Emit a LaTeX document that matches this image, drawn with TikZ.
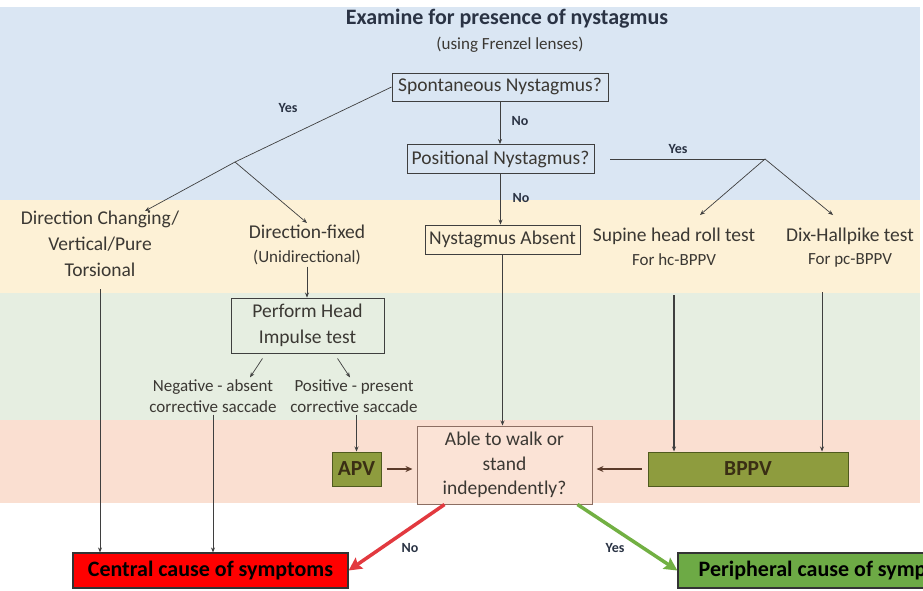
\documentclass[tikz,border=0pt]{standalone}
\usepackage{fontspec}
\setmainfont{Carlito}
\usetikzlibrary{arrows.meta,calc}
\definecolor{cblue}{HTML}{DAE6F3}
\definecolor{cyellow}{HTML}{FDF1D6}
\definecolor{cgreenband}{HTML}{E6EEE1}
\definecolor{cpink}{HTML}{FADFD1}
\definecolor{ablefill}{HTML}{FBE3D6}
\definecolor{ableborder}{HTML}{8C6E62}
\definecolor{olivefill}{HTML}{8E9C3E}
\definecolor{oliveborder}{HTML}{4F5A1E}
\definecolor{olivetext}{HTML}{3A2E14}
\definecolor{cred}{HTML}{FF0000}
\definecolor{cgreen}{HTML}{6DAA45}
\definecolor{redline}{HTML}{E2393F}
\definecolor{greenline}{HTML}{72B043}
\definecolor{textcol}{HTML}{3B3833}
\definecolor{titlecol}{HTML}{2A3344}
\definecolor{linecol}{HTML}{3F3F3F}
\definecolor{browncol}{HTML}{5A3A2A}
\begin{document}
\begin{tikzpicture}[x=1pt,y=-1pt,
  txt/.style={text=textcol,font=\fontsize{19.5}{25.5}\selectfont,align=center,inner sep=2pt},
  subtxt/.style={text=textcol,font=\fontsize{17}{21}\selectfont,align=center,inner sep=2pt},
  boxnode/.style={txt,draw=linecol,line width=0.9pt},
  olivebox/.style={draw=oliveborder,fill=olivefill,line width=1pt,text=olivetext,font=\bfseries\fontsize{21.5}{25}\selectfont},
  ablebox/.style={txt,draw=ableborder,fill=ablefill,line width=1pt,font=\fontsize{19.5}{24.5}\selectfont},
  outbox/.style={draw=black!80,line width=1.2pt,text=black,font=\bfseries\fontsize{22}{26}\selectfont},
  lbl/.style={text=titlecol,font=\bfseries\fontsize{14}{16}\selectfont},
  ln/.style={draw=linecol,line width=0.7pt},
  arr/.style={ln,-{Stealth[length=5pt,width=4pt]}},
  brownarr/.style={draw=browncol,line width=1.8pt,-{Stealth[length=7pt,width=6pt]}},
  bigarr/.style={line width=3.5pt,-{Stealth[length=13pt,width=13pt,inset=2pt]}}
]
\useasboundingbox (0,0) rectangle (923,590);
\clip (0,0) rectangle (923,590);
\fill[white] (0,0) rectangle (923,590);
% bands
\fill[cblue] (0,7) rectangle (920,200);
\fill[cyellow] (0,200) rectangle (920,293);
\fill[cgreenband] (0,293) rectangle (920,420);
\fill[cpink] (0,420) rectangle (920,503);

% nodes
\node[text=titlecol,font=\bfseries\fontsize{22}{26}\selectfont] (title) at (507,19) {Examine for presence of nystagmus};
\node[subtxt] (frenzel) at (510,45) {(using Frenzel lenses)};
\node[boxnode,minimum width=216,minimum height=28] (spont) at (500,87) {Spontaneous Nystagmus?};
\node[boxnode,minimum width=187,minimum height=29] (posn) at (500.5,159) {Positional Nystagmus?};
\node[boxnode,minimum width=155,minimum height=29] (absent) at (502.5,239.5) {Nystagmus Absent};
\node[txt,font=\fontsize{19.5}{26}\selectfont] (dc) at (100,244) {Direction Changing/\\Vertical/Pure\\Torsional};
\node[txt] (df) at (307,232) {Direction-fixed};
\node[subtxt] (dfu) at (307,257) {(Unidirectional)};
\node[txt] (sup) at (674,236) {Supine head roll test};
\node[subtxt] (suph) at (674,260) {For hc-BPPV};
\node[txt] (dix) at (850,236) {Dix-Hallpike test};
\node[subtxt] (dixp) at (850,260) {For pc-BPPV};
\node[boxnode,minimum width=153,minimum height=55,font=\fontsize{19.5}{26}\selectfont] (hit) at (307.5,325.5) {Perform Head\\Impulse test};
\node[subtxt] (neg) at (213,396) {Negative - absent\\corrective saccade};
\node[subtxt] (posi) at (354,396) {Positive - present\\corrective saccade};
\node[olivebox,minimum width=49,minimum height=34] (apv) at (356.5,469) {APV};
\node[ablebox,minimum width=175,minimum height=78] (able) at (504.5,465) {Able to walk or\\stand\\independently?};
\node[olivebox,minimum width=200,minimum height=34] (bppv) at (748,469) {BPPV};
\node[outbox,fill=cred,minimum width=275,minimum height=35] (central) at (210.5,570.5) {Central cause of symptoms};
\node[outbox,fill=cgreen,minimum width=315,minimum height=35] (periph) at (835.5,570.5) {Peripheral cause of symptoms};

% junctions and free ends
\coordinate (j1) at (235,162);
\coordinate (j2) at (765,159);
\coordinate (dctip) at (145,211);
\coordinate (suptip) at (700,215);
\coordinate (dixtip) at (833,215);

% connectors
\draw[ln] (spont.west) -- (j1);
\draw[arr] (j1) -- (dctip);
\draw[arr] (j1) -- (df.north);
\node[lbl] (yes1) at (288,108) {Yes};
\draw[arr] (spont.south) -- (spont.south |- posn.north);
\node[lbl] (no1) at (520,121) {No};
\draw[ln,shorten <=16pt] (posn.east) -- (j2);
\draw[arr] (j2) -- (suptip);
\draw[arr] (j2) -- (dixtip);
\node[lbl] (yes2) at (678,149) {Yes};
\draw[arr] (posn.south) -- (posn.south |- absent.north);
\node[lbl] (no2) at (521,198) {No};

\draw[arr,shorten <=10pt] (dc.south) -- (dc.south |- central.north);
\draw[arr] (dfu.south) -- (dfu.south |- hit.north);
\draw[arr] ($(hit.south)+(-45,5)$) -- ($(neg.north)+(37,0)$);
\draw[arr] ($(hit.south)+(30,5)$) -- ($(posi.north)+(-4,0)$);
\draw[arr] (neg.south) -- (neg.south |- central.north);
\draw[arr] (apv.north |- posi.south) -- (apv.north);
\draw[arr] (absent.south) -- (absent.south |- able.north);
\draw[arr,line width=1.2pt,shorten <=27pt] (suph.south) -- (suph.south |- bppv.north);
\draw[arr,shorten <=23pt] ([xshift=-28pt]dixp.south) -- ([xshift=-28pt]dixp.south |- bppv.north);
\draw[brownarr,shorten <=5pt,shorten >=4pt] (apv.east) -- (apv.east -| able.west);
\draw[brownarr,shorten <=6pt,shorten >=4pt] (bppv.west) -- (bppv.west -| able.east);
\draw[bigarr,draw=redline,fill=redline] ([xshift=-60pt]able.south) -- (central.east);
\draw[bigarr,draw=greenline,fill=greenline] ([xshift=73pt]able.south) -- (periph.west);
\node[lbl] (no3) at (410,548) {No};
\node[lbl] (yes3) at (615,548) {Yes};
\end{tikzpicture}
\end{document}
